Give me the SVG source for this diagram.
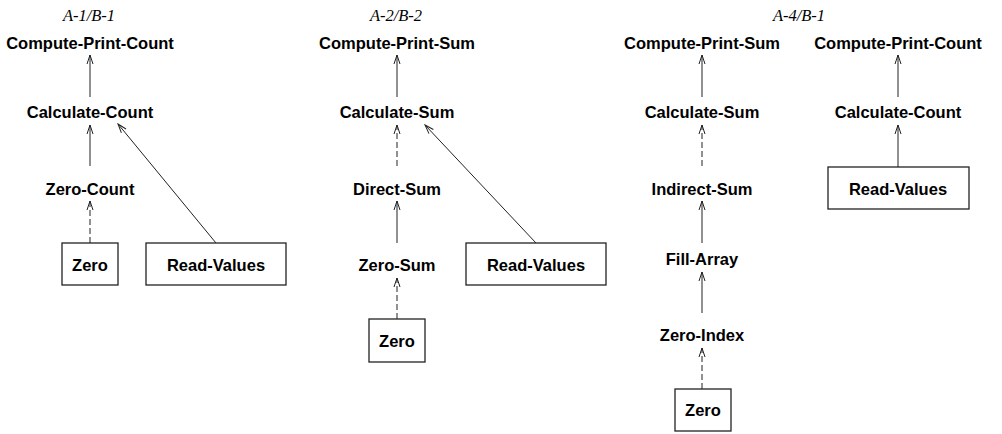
<svg xmlns="http://www.w3.org/2000/svg" width="1002" height="434" viewBox="0 0 1002 434">
<style>
.t{font-family:"Liberation Sans",Arial,sans-serif;font-weight:bold;font-size:16.5px;fill:#000;text-anchor:middle}
.h{font-family:"Liberation Serif","Times New Roman",serif;font-style:italic;font-size:16.5px;fill:#000;text-anchor:middle}
.b{fill:#fff;stroke:#222;stroke-width:1.3}
.c{stroke:#222;stroke-width:1;fill:none;marker-end:url(#ah)}
.d{stroke-dasharray:6,3}
</style>
<defs>
<marker id="ah" markerUnits="userSpaceOnUse" markerWidth="12" markerHeight="10" viewBox="-11 -5 12 10" refX="0" refY="0" orient="auto">
<path d="M-9,-3 L0,0 L-9,3" fill="none" stroke="#222" stroke-width="1"/>
</marker>
</defs>
<rect width="1002" height="434" fill="#fff"/>
<text class="h" x="89" y="21">A-1/B-1</text>
<text class="h" x="396" y="21">A-2/B-2</text>
<text class="h" x="799" y="21">A-4/B-1</text>
<g id="connectors">
<line class="c" x1="90" y1="97" x2="90" y2="55"/>
<line class="c" x1="90" y1="166" x2="90" y2="125"/>
<line class="c d" x1="90" y1="243" x2="90" y2="201"/>
<line class="c" x1="216" y1="243" x2="118" y2="124"/>
<line class="c" x1="397" y1="97" x2="397" y2="55"/>
<line class="c d" x1="397" y1="166" x2="397" y2="125"/>
<line class="c" x1="397" y1="243" x2="397" y2="201"/>
<line class="c d" x1="397" y1="319" x2="397" y2="278"/>
<line class="c" x1="536" y1="243" x2="425" y2="125"/>
<line class="c" x1="702" y1="97" x2="702" y2="55"/>
<line class="c d" x1="702" y1="166" x2="702" y2="125"/>
<line class="c" x1="702" y1="243" x2="702" y2="201"/>
<line class="c" x1="702" y1="313" x2="702" y2="272"/>
<line class="c d" x1="702" y1="389" x2="702" y2="348"/>
<line class="c" x1="898" y1="97" x2="898" y2="55"/>
<line class="c" x1="898" y1="167" x2="898" y2="125"/>
</g>
<g id="n1-compute-print-count"><text class="t" x="90" y="49">Compute-Print-Count</text></g>
<g id="n1-calculate-count"><text class="t" x="90" y="118">Calculate-Count</text></g>
<g id="n1-zero-count"><text class="t" x="90" y="195">Zero-Count</text></g>
<g id="n1-zero"><rect class="b" x="62" y="243" width="56" height="42"/><text class="t" x="90" y="271">Zero</text></g>
<g id="n1-read-values"><rect class="b" x="146" y="243" width="140" height="42"/><text class="t" x="216" y="271">Read-Values</text></g>
<g id="n2-compute-print-sum"><text class="t" x="397" y="49">Compute-Print-Sum</text></g>
<g id="n2-calculate-sum"><text class="t" x="397" y="118">Calculate-Sum</text></g>
<g id="n2-direct-sum"><text class="t" x="397" y="195">Direct-Sum</text></g>
<g id="n2-zero-sum"><text class="t" x="397" y="271">Zero-Sum</text></g>
<g id="n2-zero"><rect class="b" x="369" y="319" width="56" height="43"/><text class="t" x="397" y="347">Zero</text></g>
<g id="n2-read-values"><rect class="b" x="466" y="243" width="140" height="42"/><text class="t" x="536" y="271">Read-Values</text></g>
<g id="n3-compute-print-sum"><text class="t" x="702" y="49">Compute-Print-Sum</text></g>
<g id="n3-calculate-sum"><text class="t" x="702" y="118">Calculate-Sum</text></g>
<g id="n3-indirect-sum"><text class="t" x="702" y="195">Indirect-Sum</text></g>
<g id="n3-fill-array"><text class="t" x="702" y="265">Fill-Array</text></g>
<g id="n3-zero-index"><text class="t" x="702" y="341">Zero-Index</text></g>
<g id="n3-zero"><rect class="b" x="675" y="389" width="56" height="42"/><text class="t" x="703" y="416">Zero</text></g>
<g id="n4-compute-print-count"><text class="t" x="898" y="49">Compute-Print-Count</text></g>
<g id="n4-calculate-count"><text class="t" x="898" y="118">Calculate-Count</text></g>
<g id="n4-read-values"><rect class="b" x="828" y="167" width="141" height="42"/><text class="t" x="898" y="195">Read-Values</text></g>
</svg>
